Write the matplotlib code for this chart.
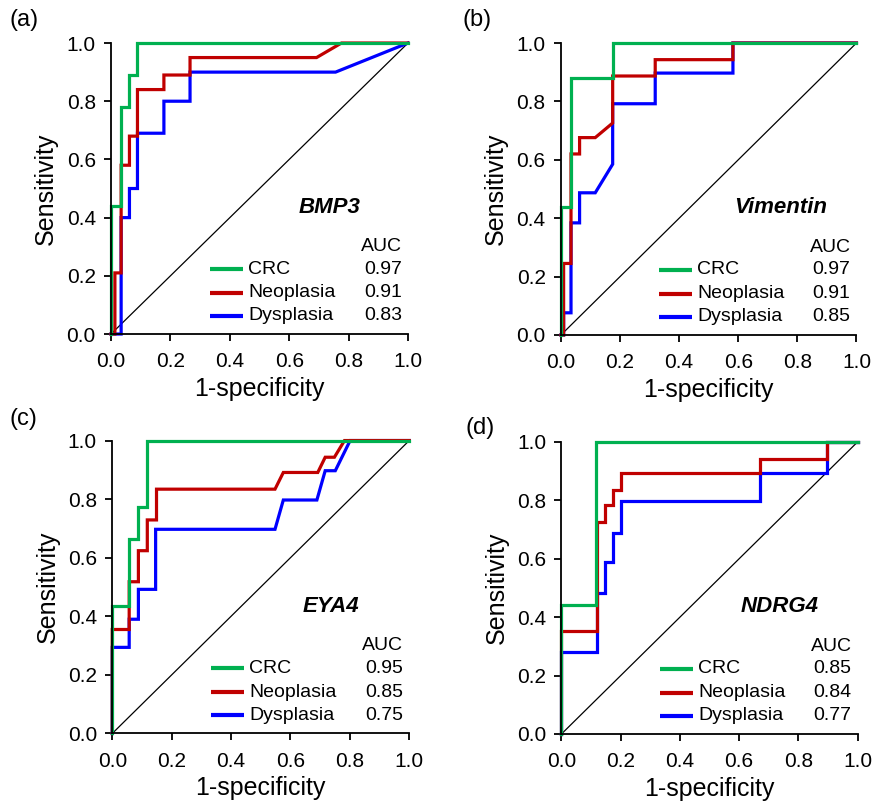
import matplotlib
matplotlib.use('agg')
import matplotlib.pyplot as plt

plt.rcParams['font.family'] = ['Liberation Sans', 'DejaVu Sans']

# colours for the three groups
green = '#00B050'
red = '#C00000'
blue = '#0000FF'

groups = ['CRC', 'Neoplasia', 'Dysplasia']

# (a) BMP3
bmp3_crc_x = [0, 0, 0.034, 0.034, 0.062, 0.062, 0.089, 0.089, 1.0]
bmp3_crc_y = [0, 0.44, 0.44, 0.78, 0.78, 0.89, 0.89, 1.0, 1.0]
bmp3_neo_x = [0, 0.013, 0.013, 0.034, 0.034, 0.062, 0.062, 0.089, 0.089, 0.178, 0.178, 0.266, 0.266, 0.692, 0.776, 1.0]
bmp3_neo_y = [0, 0, 0.21, 0.21, 0.58, 0.58, 0.68, 0.68, 0.84, 0.84, 0.89, 0.89, 0.95, 0.95, 1.0, 1.0]
bmp3_dys_x = [0, 0.034, 0.034, 0.062, 0.062, 0.089, 0.089, 0.178, 0.178, 0.266, 0.266, 0.756, 1.0]
bmp3_dys_y = [0, 0, 0.40, 0.40, 0.50, 0.50, 0.69, 0.69, 0.80, 0.80, 0.90, 0.90, 1.0]
bmp3_auc = ['0.97', '0.91', '0.83']

# (b) Vimentin
vim_crc_x = [0, 0, 0.034, 0.034, 0.175, 0.175, 1.0]
vim_crc_y = [0, 0.44, 0.44, 0.88, 0.88, 1.0, 1.0]
vim_neo_x = [0, 0.009, 0.009, 0.034, 0.034, 0.063, 0.063, 0.116, 0.175, 0.175, 0.319, 0.319, 0.582, 0.582, 1.0]
vim_neo_y = [0, 0, 0.245, 0.245, 0.62, 0.62, 0.676, 0.676, 0.726, 0.887, 0.887, 0.943, 0.943, 1.0, 1.0]
vim_dys_x = [0, 0.009, 0.009, 0.034, 0.034, 0.063, 0.063, 0.116, 0.175, 0.175, 0.319, 0.319, 0.582, 0.582, 1.0]
vim_dys_y = [0, 0, 0.076, 0.076, 0.384, 0.384, 0.487, 0.487, 0.585, 0.792, 0.792, 0.897, 0.897, 1.0, 1.0]
vim_auc = ['0.97', '0.91', '0.85']

# (c) EYA4
eya4_crc_x = [0, 0, 0.057, 0.057, 0.088, 0.088, 0.116, 0.116, 1.0]
eya4_crc_y = [0, 0.435, 0.435, 0.663, 0.663, 0.772, 0.772, 1.0, 1.0]
eya4_neo_x = [0, 0, 0.057, 0.057, 0.088, 0.088, 0.118, 0.118, 0.149, 0.149, 0.548, 0.576, 0.692, 0.717, 0.748, 0.782, 1.0]
eya4_neo_y = [0, 0.355, 0.355, 0.518, 0.518, 0.624, 0.624, 0.729, 0.729, 0.834, 0.834, 0.891, 0.891, 0.943, 0.943, 1.0, 1.0]
eya4_dys_x = [0, 0, 0.057, 0.057, 0.088, 0.088, 0.146, 0.146, 0.548, 0.576, 0.689, 0.717, 0.751, 0.801, 1.0]
eya4_dys_y = [0, 0.294, 0.294, 0.39, 0.39, 0.492, 0.492, 0.697, 0.697, 0.797, 0.797, 0.897, 0.897, 1.0, 1.0]
eya4_auc = ['0.95', '0.85', '0.75']

# (d) NDRG4
ndrg4_crc_x = [0, 0, 0.118, 0.118, 1.0]
ndrg4_crc_y = [0, 0.441, 0.441, 1.0, 1.0]
ndrg4_neo_x = [0, 0, 0.12, 0.12, 0.146, 0.146, 0.174, 0.174, 0.202, 0.202, 0.669, 0.669, 0.896, 0.896, 1.0]
ndrg4_neo_y = [0, 0.353, 0.353, 0.726, 0.726, 0.783, 0.783, 0.837, 0.837, 0.894, 0.894, 0.943, 0.943, 1.0, 1.0]
ndrg4_dys_x = [0, 0, 0.12, 0.12, 0.146, 0.146, 0.174, 0.174, 0.202, 0.202, 0.669, 0.669, 0.896, 0.896, 1.0]
ndrg4_dys_y = [0, 0.282, 0.282, 0.483, 0.483, 0.59, 0.59, 0.69, 0.69, 0.798, 0.798, 0.894, 0.894, 1.0, 1.0]
ndrg4_auc = ['0.85', '0.84', '0.77']

ticks = [0.0, 0.2, 0.4, 0.6, 0.8, 1.0]
tick_labels = ['0.0', '0.2', '0.4', '0.6', '0.8', '1.0']

panels = [
    ('(a)', 'BMP3', 0.84, [0.1269, 0.5861, 0.3394, 0.3606],
     [(bmp3_dys_x, bmp3_dys_y), (bmp3_neo_x, bmp3_neo_y), (bmp3_crc_x, bmp3_crc_y)], bmp3_auc),
    ('(b)', 'Vimentin', 0.90, [0.6411, 0.5849, 0.3377, 0.3618],
     [(vim_dys_x, vim_dys_y), (vim_neo_x, vim_neo_y), (vim_crc_x, vim_crc_y)], vim_auc),
    ('(c)', 'EYA4', 0.83, [0.1283, 0.0911, 0.3394, 0.3630],
     [(eya4_dys_x, eya4_dys_y), (eya4_neo_x, eya4_neo_y), (eya4_crc_x, eya4_crc_y)], eya4_auc),
    ('(d)', 'NDRG4', 0.87, [0.6417, 0.0905, 0.3383, 0.3618],
     [(ndrg4_dys_x, ndrg4_dys_y), (ndrg4_neo_x, ndrg4_neo_y), (ndrg4_crc_x, ndrg4_crc_y)], ndrg4_auc),
]
label_pos = [(0.011, 0.975), (0.528, 0.975), (0.011, 0.481), (0.532, 0.470)]

fig = plt.figure(figsize=(8.75, 8.07), dpi=100)

for i, (tag, gene, gene_x, rect, curves, aucs) in enumerate(panels):
    ax = fig.add_axes(rect)
    ax.plot([0, 1], [0, 1], color='black', lw=0.9, zorder=1)
    for (x, y), c in zip(curves, [blue, red, green]):
        ax.plot(x, y, color=c, lw=2.3, clip_on=False, zorder=2,
                solid_joinstyle='miter')
    ax.set_xlim(0, 1)
    ax.set_ylim(0, 1)
    ax.set_xticks(ticks)
    ax.set_xticklabels(tick_labels)
    ax.set_yticks(ticks)
    ax.set_yticklabels(tick_labels)
    ax.spines['right'].set_visible(False)
    ax.spines['top'].set_visible(False)
    ax.spines['left'].set_linewidth(1.3)
    ax.spines['bottom'].set_linewidth(1.3)
    ax.tick_params(direction='out', length=5, width=1.3, labelsize=15, pad=6)
    ax.tick_params(axis='x', pad=8)
    ax.set_xlabel('1-specificity', fontsize=18, labelpad=4)
    ax.set_ylabel('Sensitivity', fontsize=18, labelpad=6)

    ax.text(gene_x, 0.435, gene, transform=ax.transAxes, ha='right', va='center',
            fontsize=16, fontweight='bold', fontstyle='italic')

    # legend drawn by hand: line, group name, AUC value
    ax.text(0.98, 0.30, 'AUC', transform=ax.transAxes, ha='right', va='center', fontsize=14)
    rows = [0.223, 0.141, 0.062]
    for yy, name, c, auc in zip(rows, groups, [green, red, blue], aucs):
        ax.plot([0.333, 0.444], [yy, yy], color=c, lw=3, transform=ax.transAxes,
                solid_capstyle='butt')
        ax.text(0.461, yy, name, transform=ax.transAxes, ha='left', va='center', fontsize=14)
        ax.text(0.98, yy, auc, transform=ax.transAxes, ha='right', va='center', fontsize=14)

    fig.text(label_pos[i][0], label_pos[i][1], tag, ha='left', va='center', fontsize=17)

fig.savefig('out.png', dpi=100)
